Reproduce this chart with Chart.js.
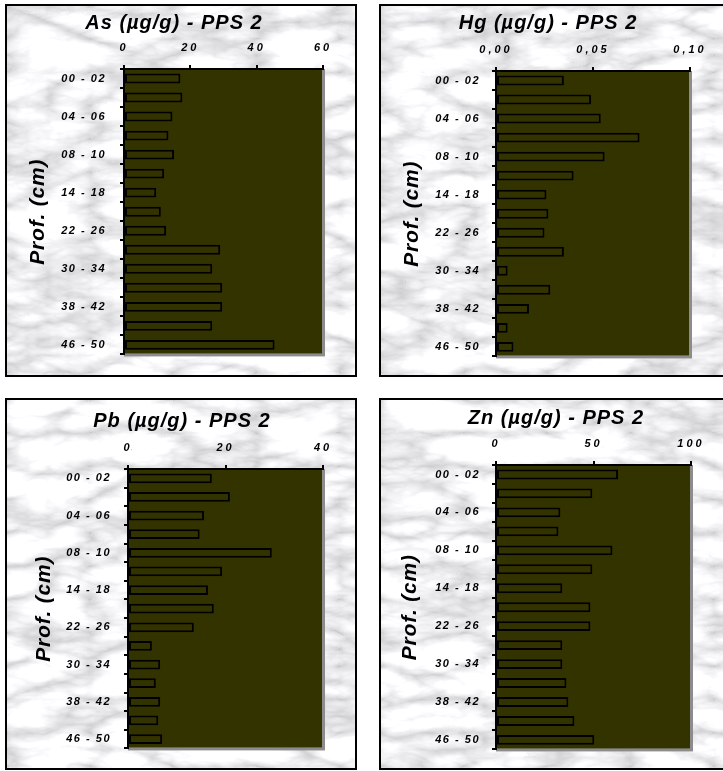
<!DOCTYPE html>
<html>
<head>
<meta charset="utf-8">
<script src="https://cdn.jsdelivr.net/npm/chart.js@4.4.1/dist/chart.umd.min.js"></script>
<style>
  html, body { margin: 0; padding: 0; background: #fff; }
  body { width: 723px; height: 771px; position: relative; overflow: hidden; }
  .frame { position: absolute; border: 2px solid #000; box-sizing: border-box; background-color: #e0e0e2; }
  .title { position: absolute; width: 300px; text-align: center; white-space: nowrap;
           font: italic bold 20px/24px "Liberation Sans", Arial, sans-serif; letter-spacing: 1px; color: #000; }
  canvas { position: absolute; }
</style>
</head>
<body>
<script>
// Sampling depth intervals (cm), top of the core first
const depths = ['00 - 02', '02 - 04', '04 - 06', '06 - 08', '08 - 10', '10 - 14', '14 - 18', '18 - 22',
                '22 - 26', '26 - 30', '30 - 34', '34 - 38', '38 - 42', '42 - 46', '46 - 50'];

// Concentrations (µg/g) per depth interval
const asValues = [17.0, 17.6, 14.6, 13.4, 15.1, 12.1, 9.7, 11.1, 12.7, 29.0, 26.6, 29.6, 29.6, 26.6, 45.4];
const hgValues = [0.035, 0.049, 0.054, 0.074, 0.056, 0.040, 0.026, 0.027, 0.025, 0.035, 0.006, 0.028, 0.017, 0.006, 0.009];
const pbValues = [17.2, 20.9, 15.6, 14.7, 29.5, 19.3, 16.4, 17.6, 13.5, 4.9, 6.6, 5.7, 6.6, 6.2, 7.0];
const znValues = [62.6, 49.4, 33.0, 32.0, 59.7, 49.4, 34.0, 48.4, 48.4, 34.0, 34.0, 36.1, 37.1, 40.2, 50.4];

// Value-axis ticks
const asTicks = [0, 20, 40, 60];
const hgTicks = [0, 0.05, 0.10];
const pbTicks = [0, 20, 40];
const znTicks = [0, 50, 100];

const depthAxisTitle = 'Prof. (cm)';

const FONT = '"Liberation Sans", Arial, sans-serif';

// Panel layout (page pixels): frame box, canvas box, plot edges, title centre
const panels = [
  { title: 'As (µg/g) - PPS 2', values: asValues, ticks: asTicks, fmt: v => String(v),
    frame: [5, 4, 352, 373], canvas: [7, 6, 348, 369], plot: { l: 124, t: 69, r: 323, b: 367 },
    titleAt: [174, 24], yTitlePad: 19, yTickPad: 14, seed: 3 },
  { title: 'Hg (µg/g) - PPS 2', values: hgValues, ticks: hgTicks, fmt: v => v.toFixed(2).replace('.', ','),
    frame: [379, 4, 352, 373], canvas: [381, 6, 342, 369], plot: { l: 496, t: 71, r: 690, b: 367 },
    titleAt: [548, 24], yTitlePad: 19, yTickPad: 12, seed: 7 },
  { title: 'Pb (µg/g) - PPS 2', values: pbValues, ticks: pbTicks, fmt: v => String(v),
    frame: [5, 398, 352, 372], canvas: [7, 400, 348, 368], plot: { l: 128, t: 469, r: 323, b: 761 },
    titleAt: [182, 422], yTitlePad: 25, yTickPad: 13, seed: 11 },
  { title: 'Zn (µg/g) - PPS 2', values: znValues, ticks: znTicks, fmt: v => String(v),
    frame: [379, 398, 352, 372], canvas: [381, 400, 342, 368], plot: { l: 496, t: 465, r: 691, b: 761 },
    titleAt: [556, 419], yTitlePad: 17, yTickPad: 12, seed: 5 }
];

// Pale grey marble texture with darker veins for the panel frames
function marble(seed, w, h) {
  const svg = `<svg xmlns='http://www.w3.org/2000/svg' width='${w}' height='${h}'>` +
    `<filter id='m' x='0' y='0' width='100%' height='100%'>` +
    `<feTurbulence type='turbulence' baseFrequency='0.012 0.03' numOctaves='4' seed='${seed}'/>` +
    `<feColorMatrix type='matrix' values='0.95 0 0 0 0.6  0.95 0 0 0 0.6  0.95 0 0 0 0.62  0 0 0 0 1'/>` +
    `</filter><rect width='100%' height='100%' filter='url(#m)'/></svg>`;
  return `url("data:image/svg+xml,${encodeURIComponent(svg)}")`;
}

// Dark plot area with a grey edge on the right and bottom
const plotBackdrop = {
  id: 'plotBackdrop',
  beforeDraw(chart) {
    const { ctx, chartArea: { left, top, right, bottom } } = chart;
    ctx.save();
    ctx.fillStyle = '#8c8c8c';
    ctx.fillRect(left, top, right - left + 2, bottom - top + 2);
    ctx.fillStyle = '#333300';
    ctx.fillRect(left, top, right - left - 1, bottom - top - 1);
    ctx.restore();
  }
};

// Wider tracking for axis labels and titles
const textSpacing = {
  id: 'textSpacing',
  beforeDraw(chart, args, opts) {
    for (const [id, sp] of Object.entries(opts.scales || {})) {
      const s = chart.scales[id];
      if (!s || s._spaced) continue;
      const wrap = (name, val) => {
        const orig = s[name];
        s[name] = function (...a) {
          const c = this.ctx;
          c.save();
          c.letterSpacing = val;
          orig.apply(this, a);
          c.restore();
        };
      };
      if (sp.ticks) wrap('drawLabels', sp.ticks);
      if (sp.title) wrap('drawTitle', sp.title);
      s._spaced = true;
    }
  }
};

const tickFont = { family: FONT, size: 11, style: 'italic', weight: 'bold' };

panels.forEach(p => {
  const fr = document.createElement('div');
  fr.className = 'frame';
  Object.assign(fr.style, { left: p.frame[0] + 'px', top: p.frame[1] + 'px',
    width: p.frame[2] + 'px', height: p.frame[3] + 'px', backgroundImage: marble(p.seed, p.frame[2], p.frame[3]) });
  document.body.appendChild(fr);

  const [L, T, W, H] = p.canvas;
  const cv = document.createElement('canvas');
  cv.width = W; cv.height = H;
  Object.assign(cv.style, { left: L + 'px', top: T + 'px', width: W + 'px', height: H + 'px' });
  document.body.appendChild(cv);

  const tt = document.createElement('div');
  tt.className = 'title';
  tt.textContent = p.title;
  Object.assign(tt.style, { left: (p.titleAt[0] - 150) + 'px', top: (p.titleAt[1] - 14) + 'px' });
  document.body.appendChild(tt);

  const yWidth = p.plot.l - L;
  const xHeight = p.plot.t - T;
  const ticks = p.ticks;

  new Chart(cv, {
    type: 'bar',
    data: {
      labels: depths,
      datasets: [{
        data: p.values,
        backgroundColor: '#333300',
        borderColor: '#000',
        borderWidth: 2,
        borderSkipped: false,
        barPercentage: 0.52,
        categoryPercentage: 1
      }]
    },
    options: {
      indexAxis: 'y',
      responsive: false,
      animation: false,
      devicePixelRatio: 1,
      layout: { padding: { top: 0, left: 0, right: L + W - p.plot.r, bottom: T + H - p.plot.b } },
      plugins: {
        legend: { display: false },
        tooltip: { enabled: false },
        textSpacing: { scales: { x: { ticks: '3px' }, y: { ticks: '1.5px', title: '0.8px' } } }
      },
      scales: {
        x: {
          type: 'linear',
          position: 'top',
          min: ticks[0],
          max: ticks[ticks.length - 1],
          afterFit: s => { s.height = xHeight; },
          afterBuildTicks: s => { s.ticks = ticks.map(v => ({ value: v })); },
          grid: { display: true, drawOnChartArea: false, drawTicks: true, tickLength: 4, color: '#000', lineWidth: 2 },
          border: { display: true, color: '#000', width: 2 },
          ticks: { padding: 10, color: '#000', font: tickFont, maxRotation: 0, autoSkip: false,
                   callback: v => p.fmt(v) }
        },
        y: {
          type: 'category',
          position: 'left',
          offset: true,
          afterFit: s => { s.width = yWidth; },
          grid: { display: true, offset: true, drawOnChartArea: false, drawTicks: true, tickLength: 4, color: '#000', lineWidth: 2 },
          border: { display: true, color: '#000', width: 2 },
          ticks: { autoSkip: false, padding: p.yTickPad, color: '#000', font: tickFont,
                   callback: (v, i) => (i % 2 === 0 ? depths[i] : '') },
          title: { display: true, text: depthAxisTitle, color: '#000',
                   font: { family: FONT, size: 21, style: 'italic', weight: 'bold' },
                   padding: { top: p.yTitlePad, bottom: 0 } }
        }
      }
    },
    plugins: [plotBackdrop, textSpacing]
  });
});
</script>
</body>
</html>
